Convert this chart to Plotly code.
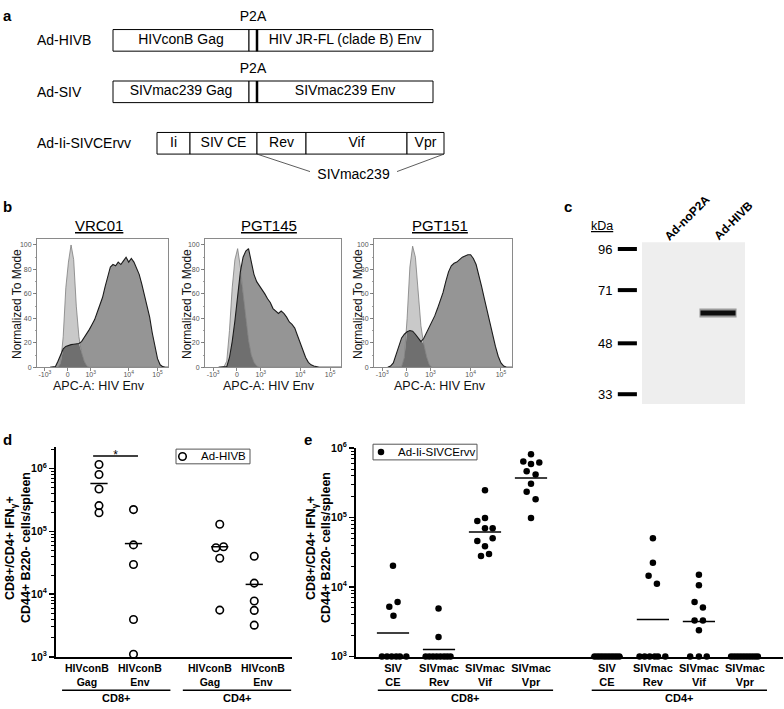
import numpy as np
import plotly.graph_objects as go

W, H = 784, 709
FONT = "Liberation Sans, Arial, Helvetica, sans-serif"


def px(x):
    return x / W


def py(y):
    return 1 - y / H


# ---------------- data ----------------
# a : construct maps (segment lengths in schematic units)
construct_names = ["Ad-HIVB", "Ad-SIV", "Ad-Ii-SIVCErvv"]
hivb_parts = ["HIVconB Gag", "", "HIV JR-FL (clade B) Env"]
hivb_sizes = [136, 8, 176]
siv_parts = ["SIVmac239 Gag", "", "SIVmac239 Env"]
siv_sizes = [136, 8, 176]
ii_parts = ["Ii", "SIV CE", "Rev", "Vif", "Vpr"]
ii_sizes = [33, 67, 49, 101, 37]
linker_name = "P2A"
bracket_name = "SIVmac239"

# b : flow histograms (display-scale channel, % of mode)
hist_x = [0.10, 0.12, 0.14, 0.16, 0.18, 0.20, 0.22, 0.24, 0.26, 0.28,
          0.30, 0.32, 0.34, 0.36, 0.38, 0.40, 0.42, 0.44, 0.46, 0.48,
          0.50, 0.52, 0.54, 0.56, 0.58, 0.60, 0.62, 0.64, 0.66, 0.68,
          0.70, 0.72, 0.74, 0.76, 0.78, 0.80, 0.82, 0.84, 0.86, 0.88,
          0.90, 0.92, 0.94, 0.96, 0.98, 1.00]
antibodies = ["VRC01", "PGT145", "PGT151"]
ctrl_vrc01 = [0, 0, 0, 0, 3, 25, 65, 86, 100, 88,
              50, 25, 12, 5, 1, 0, 0, 0, 0, 0,
              0, 0, 0, 0, 0, 0, 0, 0, 0, 0,
              0, 0, 0, 0, 0, 0, 0, 0, 0, 0,
              0, 0, 0, 0, 0, 0]
env_vrc01 = [0, 0, 0.5, 5, 10, 15, 17, 18, 18.5, 18.8,
             19, 19.5, 21, 24, 27, 31, 35, 39, 45, 51,
             57, 66, 75, 82, 84, 83, 86, 84, 87, 90,
             86, 89, 86, 81, 76, 68, 59, 50, 41, 28,
             17, 7, 2, 0.5, 0, 0]
ctrl_pgt145 = [0, 0, 0.5, 5, 30, 65, 88, 97, 82, 60,
               40, 22, 10, 4, 1, 0, 0, 0, 0, 0,
               0, 0, 0, 0, 0, 0, 0, 0, 0, 0,
               0, 0, 0, 0, 0, 0, 0, 0, 0, 0,
               0, 0, 0, 0, 0, 0]
env_pgt145 = [0, 0, 0, 0.5, 8, 21, 38, 58, 78, 90,
              95, 97, 85, 76, 70, 67, 63, 60, 56, 53,
              48, 46, 44, 46, 44, 41, 37, 35, 32, 26,
              20, 14, 8, 4, 2, 1, 0.3, 0, 0, 0,
              0, 0, 0, 0, 0, 0]
ctrl_pgt151 = [0, 0, 0, 0, 0, 0.5, 8, 40, 82, 99,
               90, 63, 34, 19, 9, 2, 0, 0, 0, 0,
               0, 0, 0, 0, 0, 0, 0, 0, 0, 0,
               0, 0, 0, 0, 0, 0, 0, 0, 0, 0,
               0, 0, 0, 0, 0, 0]
env_pgt151 = [0, 1, 3.5, 10, 18, 24, 27, 29, 30, 29.5,
              27, 24, 21, 23.5, 28, 32, 37, 42, 48, 54,
              61, 70, 78, 83, 85, 86, 88, 90, 91, 92,
              92, 89, 84, 76, 66, 56, 46, 37, 27, 17,
              9, 3.5, 1, 0, 0, 0]
apc_tick_pos = [0.06, 0.235, 0.41, 0.70, 0.92]
apc_tick_text = ["-10<sup>3</sup>", "0", "10<sup>3</sup>", "10<sup>4</sup>", "10<sup>5</sup>"]
mode_ticks = [0, 20, 40, 60, 80, 100]

# c : western blot
ladder_kda = [96, 71, 48, 33]
lane_names = ["Ad-noP2A", "Ad-HIVB"]
band_lane = 2
band_kda = 60
blot_kda_span = [30.7, 101]

# d : Ad-HIVB responses (cells/spleen)
d_labels = ["HIVconB<br>Gag", "HIVconB<br>Env", "HIVconB<br>Gag", "HIVconB<br>Env"]
d_groups = ["CD8+", "CD4+"]
d_cd8_gag = [1170000, 810000, 475000, 258000, 198000]
d_cd8_env = [223000, 61000, 29700, 3930, 1100]
d_cd4_gag = [130000, 55000, 57000, 37400, 5560]
d_cd4_env = [40200, 15000, 7760, 5500, 3200]
d_cd8_gag_off = [0, 0, 0, 0, 0]
d_cd8_env_off = [0, 0, 0, 0, 0]
d_cd4_gag_off = [0, -0.11, 0.11, 0, 0]
d_cd4_env_off = [0, 0, 0, 0, 0]
d_means = [582000, 64000, 57000, 14300]
d_legend = "Ad-HIVB"

# e : Ad-Ii-SIVCErvv responses (cells/spleen)
e_labels = ["SIV<br>CE", "SIVmac<br>Rev", "SIVmac<br>Vif", "SIVmac<br>Vpr",
            "SIV<br>CE", "SIVmac<br>Rev", "SIVmac<br>Vif", "SIVmac<br>Vpr"]
e_groups = ["CD8+", "CD4+"]
e_cd8_ce = [20200, 6100, 5200, 3870, 1000, 1000, 1000, 1000, 1000, 1000]
e_cd8_rev = [4900, 1910, 1000, 1000, 1000, 1000, 1000, 1000, 1000, 1000]
e_cd8_vif = [248000, 99000, 89000, 70000, 70000, 50600, 46000, 38700, 30000, 28000]
e_cd8_vpr = [815000, 640000, 590000, 620000, 466000, 417000, 308000, 235000, 183000, 99000]
e_cd4_ce = [1000, 1000, 1000, 1000, 1000, 1000, 1000, 1000, 1000, 1000]
e_cd4_rev = [50600, 22300, 14500, 11200, 1000, 1000, 1000, 1000, 1000, 1000]
e_cd4_vif = [15000, 10600, 6100, 5060, 3290, 3290, 2380, 1000, 1000, 1000]
e_cd4_vpr = [1000, 1000, 1000, 1000, 1000, 1000, 1000, 1000, 1000, 1000]
e_cd8_ce_off = [0, 0.10, -0.08, 0.01, -0.24, -0.13, -0.03, 0.07, 0.15, 0.29]
e_cd8_rev_off = [-0.01, -0.01, -0.29, -0.21, -0.13, -0.05, 0.03, 0.11, 0.18, 0.25]
e_cd8_vif_off = [0, 0, -0.167, 0, 0.167, 0.167, -0.167, 0, 0.087, -0.087]
e_cd8_vpr_off = [0, -0.167, 0, 0.18, -0.094, 0.10, 0, -0.094, 0.10, 0]
e_cd4_ce_off = [-0.27, -0.21, -0.15, -0.09, -0.03, 0.03, 0.09, 0.15, 0.21, 0.27]
e_cd4_rev_off = [0, 0, -0.094, 0.087, -0.29, -0.18, -0.07, 0.04, 0.11, 0.27]
e_cd4_vif_off = [0, 0, -0.094, 0.087, -0.094, 0.087, 0, -0.19, 0, 0.17]
e_cd4_vpr_off = [-0.30, -0.235, -0.17, -0.105, -0.04, 0.025, 0.09, 0.155, 0.22, 0.28]
e_means = [2180, 1260, 62000, 370000, 1000, 3400, 3200, 1000]
e_legend = "Ad-Ii-SIVCErvv"

# ---------------- figure ----------------
fig = go.Figure()
annotations = []
shapes = []
NOHOVER = dict(hoverinfo="skip", showlegend=False)


def note(x, y, text, size, xanchor="center", yanchor="middle", xref="paper", yref="paper",
         bold=False, angle=0, color="black", **kw):
    f = dict(size=size, color=color)
    if bold:
        f["weight"] = "bold"
    annotations.append(dict(x=x, y=y, xref=xref, yref=yref, text=text, showarrow=False,
                            xanchor=xanchor, yanchor=yanchor, textangle=angle, font=f, **kw))


# ===== panel a =====
rows = [(hivb_parts, hivb_sizes, 113), (siv_parts, siv_sizes, 113), (ii_parts, ii_sizes, 157)]
BOX_H = 0.42
for r, (parts, sizes, start) in enumerate(rows):
    sz = np.array(sizes, float)
    bases = start + np.concatenate([[0.0], np.cumsum(sz)[:-1]])
    fig.add_trace(go.Bar(y=[r] * len(sz), x=sz, base=bases, orientation="h", width=BOX_H,
                         marker=dict(color="white", line=dict(color="black", width=1)),
                         xaxis="x", yaxis="y", **NOHOVER))
    centers = bases + sz / 2
    named = [i for i, p in enumerate(parts) if p]
    fig.add_trace(go.Scatter(x=[centers[i] for i in named], y=[r] * len(named), mode="text",
                             text=[parts[i] for i in named],
                             textfont=dict(size=14, color="black"), xaxis="x", yaxis="y",
                             cliponaxis=False, **NOHOVER))
    if "" in parts:
        k = parts.index("")
        fig.add_trace(go.Scatter(x=[bases[k] + sz[k]] * 2, y=[r - BOX_H / 2, r + BOX_H / 2],
                                 mode="lines", line=dict(color="black", width=2.5),
                                 xaxis="x", yaxis="y", **NOHOVER))
        fig.add_trace(go.Scatter(x=[centers[k]], y=[r - 0.44], mode="text", text=[linker_name],
                                 textfont=dict(size=14, color="black"), xaxis="x", yaxis="y",
                                 cliponaxis=False, **NOHOVER))
    else:
        i_rev, i_vpr = parts.index("Rev"), parts.index("Vpr")
        x_l = bases[i_rev]
        x_r = bases[i_vpr] + sz[i_vpr]
        yb = r + BOX_H / 2
        fig.add_trace(go.Scatter(x=[x_l, x_l + 53, None, x_r, x_r - 47],
                                 y=[yb, yb + 0.34, None, yb, yb + 0.34],
                                 mode="lines", line=dict(color="#333", width=0.8),
                                 xaxis="x", yaxis="y", **NOHOVER))
        fig.add_trace(go.Scatter(x=[(x_l + 53 + x_r - 47) / 2], y=[r + 0.63], mode="text",
                                 text=[bracket_name], textfont=dict(size=14, color="black"),
                                 xaxis="x", yaxis="y", cliponaxis=False, **NOHOVER))
    note(px(35), r, construct_names[r], 14, xanchor="left", yref="y")

# ===== panel b =====
b_domains = [(37, 168), (205, 341), (374, 512)]
b_centers = [98.5, 269, 440]
b_ylab_x = [17, 187, 358]
ctrls = [ctrl_vrc01, ctrl_pgt145, ctrl_pgt151]
envs = [env_vrc01, env_pgt145, env_pgt151]
for i in range(3):
    xa, ya = f"x{i + 2}", f"y{i + 2}"
    c = np.array(ctrls[i], float)
    s = np.array(envs[i], float)
    ov = np.minimum(c, s)
    for yv, col in [(s, "#959595"), (c, "#c9c9c9"), (ov, "#6f6f6f")]:
        fig.add_trace(go.Scatter(x=hist_x, y=yv, mode="lines", line=dict(width=0, color=col),
                                 fill="tozeroy", fillcolor=col, xaxis=xa, yaxis=ya, **NOHOVER))
    fig.add_trace(go.Scatter(x=hist_x, y=c, mode="lines", line=dict(color="#7d7d7d", width=0.8),
                             xaxis=xa, yaxis=ya, **NOHOVER))
    fig.add_trace(go.Scatter(x=hist_x, y=s, mode="lines", line=dict(color="#1c1c1c", width=1.1),
                             xaxis=xa, yaxis=ya, **NOHOVER))
    l, rr = b_domains[i]
    fig.update_layout(**{
        f"xaxis{i + 2}": dict(domain=[px(l), px(rr)], range=[0, 1], anchor=ya,
                              tickvals=apc_tick_pos, ticktext=apc_tick_text, ticks="outside",
                              ticklen=3, tickwidth=0.8, tickcolor="#666",
                              tickfont=dict(size=7, color="#555"), ticklabelstandoff=-3,
                              showline=True, linecolor="#8a8a8a", linewidth=1, mirror=True,
                              showgrid=False, zeroline=False, fixedrange=True),
        f"yaxis{i + 2}": dict(domain=[py(366.5), py(236)], range=[0, 104.6], anchor=xa,
                              tickvals=mode_ticks, ticks="outside", ticklen=3, tickwidth=0.8,
                              tickcolor="#666", tickfont=dict(size=7, color="#555"),
                              showline=True, linecolor="#8a8a8a", linewidth=1, mirror=True,
                              showgrid=False, zeroline=False, fixedrange=True,
                              minor=dict(dtick=10, ticks="outside", ticklen=1.5, tickcolor="#888")),
    })
    note(px(b_centers[i]), py(222), f"<u>{antibodies[i]}</u>", 15)
    note(px(b_centers[i]), py(386), "APC-A: HIV Env", 12.5, color="#111")
    note(px(b_ylab_x[i]), py(302), "Normalized To Mode", 12, angle=-90, color="#111")

# ===== panel c =====
lk = np.log10(ladder_kda)
span = np.log10(blot_kda_span)
fig.add_trace(go.Scatter(x=[0.566, 2.509, 2.509, 0.566, 0.566],
                         y=[span[0], span[0], span[1], span[1], span[0]],
                         mode="lines", line=dict(width=0), fill="toself", fillcolor="#eeeeee",
                         xaxis="x5", yaxis="y5", **NOHOVER))
ladder_x = 0.29
for k, v in zip(ladder_kda, lk):
    fig.add_trace(go.Scatter(x=[ladder_x - 0.18, ladder_x + 0.18], y=[v, v], mode="lines",
                             line=dict(color="black", width=4), xaxis="x5", yaxis="y5", **NOHOVER))
    note(ladder_x - 0.18, v, str(k), 13, xanchor="right", xref="x5", yref="y5", xshift=-4)
bk = np.log10(band_kda)
fig.add_trace(go.Scatter(x=[band_lane - 0.35, band_lane + 0.35], y=[bk, bk], mode="lines",
                         line=dict(color="rgba(0,0,0,0.35)", width=9), xaxis="x5", yaxis="y5",
                         **NOHOVER))
fig.add_trace(go.Scatter(x=[band_lane - 0.33, band_lane + 0.33], y=[bk, bk], mode="lines",
                         line=dict(color="#0d0d0d", width=5), xaxis="x5", yaxis="y5", **NOHOVER))
note(px(602), py(222), "<u>kDa</u>", 12.5)
lane_label_pos = [(687, 214), (733, 217)]
for name, (lx, ly) in zip(lane_names, lane_label_pos):
    note(px(lx), py(ly), name, 12, angle=-45, bold=True)
fig.update_layout(
    xaxis5=dict(domain=[px(600), px(760)], range=[-0.226, 2.792], visible=False, anchor="y5",
                fixedrange=True),
    yaxis5=dict(domain=[py(410), py(230)], range=[1.4684, 2.0323], visible=False, anchor="x5",
                fixedrange=True),
)


# ===== common dot-plot helpers =====
def marker_style(symbol, size):
    if symbol == "circle-open":
        return dict(symbol=symbol, size=size, color="black", line=dict(width=1.6, color="black"))
    return dict(symbol=symbol, size=size, color="black", line=dict(width=0))


def add_points(vals_list, offs_list, positions, xa, ya, symbol, size):
    xs, ys = [], []
    for vals, offs, p in zip(vals_list, offs_list, positions):
        xs += list(p + np.array(offs))
        ys += list(vals)
    fig.add_trace(go.Scatter(x=xs, y=ys, mode="markers", marker=marker_style(symbol, size),
                             xaxis=xa, yaxis=ya, cliponaxis=False, **NOHOVER))


def add_means(means, positions, half, xa, ya):
    xs, ys = [], []
    for m, p in zip(means, positions):
        xs += [p - half, p + half, None]
        ys += [m, m, None]
    fig.add_trace(go.Scatter(x=xs, y=ys, mode="lines", line=dict(color="black", width=1.5),
                             xaxis=xa, yaxis=ya, cliponaxis=False, **NOHOVER))


def log_axis(dom, rng, anchor, minors):
    return dict(type="log", range=rng, domain=dom, anchor=anchor, fixedrange=True,
                tickvals=[1e3, 1e4, 1e5, 1e6],
                ticktext=["10<sup>3</sup>", "10<sup>4</sup>", "10<sup>5</sup>", "10<sup>6</sup>"],
                ticks="outside", ticklen=5, tickwidth=1.5, tickcolor="black",
                tickfont=dict(size=10.5, color="black", weight="bold"),
                showline=True, linewidth=2, linecolor="black", showgrid=False, zeroline=False,
                minor=dict(tickvals=minors, ticks="outside", ticklen=3, tickwidth=1,
                           tickcolor="black", showgrid=False))


minor_vals = [k * 10 ** e for e in (3, 4, 5) for k in range(2, 10)]
LOG_FLOOR = 2.9985  # a hair below 10^3 so values at the detection floor stay drawn

# ===== panel d =====
d_pos = [1, 2, 4.5, 5.5]
add_points([d_cd8_gag, d_cd8_env, d_cd4_gag, d_cd4_env],
           [d_cd8_gag_off, d_cd8_env_off, d_cd4_gag_off, d_cd4_env_off],
           d_pos, "x6", "y6", "circle-open", 7.5)
add_means(d_means, d_pos, 0.25, "x6", "y6")
fig.add_trace(go.Scatter(x=[d_pos[0] - 0.17, d_pos[1] + 0.13], y=[1.6e6, 1.6e6], mode="lines",
                         line=dict(color="black", width=1.5), xaxis="x6", yaxis="y6",
                         cliponaxis=False, **NOHOVER))
fig.add_trace(go.Scatter(x=[(d_pos[0] + d_pos[1]) / 2 - 0.02], y=[1.6e6], mode="text", text=["*"],
                         textfont=dict(size=12, color="black"), xaxis="x6", yaxis="y6",
                         cliponaxis=False, **NOHOVER))
fig.update_layout(
    xaxis6=dict(domain=[px(56), px(292)], range=[-0.246, 6.594], anchor="y6", fixedrange=True,
                showticklabels=False, ticks="", showline=True, linewidth=2,
                linecolor="black", showgrid=False, zeroline=False),
    yaxis6=log_axis([py(662), py(448)], [LOG_FLOOR, 6.344], "x6", minor_vals + [2e6]),
)
d_label_x = [87, 140, 210, 263]
for lab, lx in zip(d_labels, d_label_x):
    note(px(lx), py(680), lab, 10.5, bold=True)
for g, (a, b) in zip(d_groups, [(d_pos[0], d_pos[1]), (d_pos[2], d_pos[3])]):
    shapes.append(dict(type="line", xref="x6", yref="paper", x0=a - 1.07, x1=b + 1.07,
                       y0=py(696), y1=py(696), line=dict(color="black", width=1.5)))
    note((a + b) / 2, py(703.5), g, 11, xref="x6", bold=True)

# ===== panel e =====
e_pos = [1, 2, 3, 4, 5.65, 6.65, 7.65, 8.65]
add_points([e_cd8_ce, e_cd8_rev, e_cd8_vif, e_cd8_vpr, e_cd4_ce, e_cd4_rev, e_cd4_vif, e_cd4_vpr],
           [e_cd8_ce_off, e_cd8_rev_off, e_cd8_vif_off, e_cd8_vpr_off,
            e_cd4_ce_off, e_cd4_rev_off, e_cd4_vif_off, e_cd4_vpr_off],
           e_pos, "x7", "y7", "circle", 6.5)
add_means(e_means, e_pos, 0.35, "x7", "y7")
fig.update_layout(
    xaxis7=dict(domain=[px(356), px(783)], range=[0.196, 9.478], anchor="y7", fixedrange=True,
                tickvals=e_pos, ticktext=e_labels, ticks="", tickangle=0, showline=True,
                linewidth=2, linecolor="black", showgrid=False, zeroline=False,
                tickfont=dict(size=11, color="black", weight="bold")),
    yaxis7=log_axis([py(661.7), py(449)], [LOG_FLOOR, 6], "x7", minor_vals),
)
for g, (a, b) in zip(e_groups, [(e_pos[0], e_pos[3]), (e_pos[4], e_pos[7])]):
    shapes.append(dict(type="line", xref="x7", yref="paper", x0=a - 0.33, x1=b + 0.48,
                       y0=py(696), y1=py(696), line=dict(color="black", width=1.5)))
    note((a + b) / 2 + 0.075, py(703.5), g, 11, xref="x7", bold=True)

# ===== hand-drawn legends for d and e (overlay axis in pixel units) =====
fig.update_layout(
    xaxis8=dict(domain=[0, 1], range=[0, W], visible=False, anchor="y8", fixedrange=True),
    yaxis8=dict(domain=[0, 1], range=[H, 0], visible=False, anchor="x8", fixedrange=True),
)
legend_boxes = [((176, 450, 250, 465), 182.5, 199, d_legend, "circle-open", 7.5),
                ((373, 445, 477, 461), 381, 396, e_legend, "circle", 6.5)]
for (x0, y0, x1, y1), mx, tx, label, sym, size in legend_boxes:
    shapes.append(dict(type="rect", xref="paper", yref="paper", x0=px(x0), x1=px(x1),
                       y0=py(y1), y1=py(y0), line=dict(color="#555", width=1),
                       fillcolor="white", layer="below"))
    ym = (y0 + y1) / 2
    fig.add_trace(go.Scatter(x=[mx], y=[ym], mode="markers", marker=marker_style(sym, size),
                             xaxis="x8", yaxis="y8", cliponaxis=False, **NOHOVER))
    note(px(tx), py(ym), label, 11.5, xanchor="left")

# y titles for d and e
ytitle1 = "CD8+/CD4+ IFN<sub>γ</sub>+"
ytitle2 = "CD44+ B220- cells/spleen"
for x1, x2 in [(11, 26), (312, 326)]:
    note(px(x1), py(551), ytitle1, 12.5, angle=-90, bold=True)
    note(px(x2), py(551), ytitle2, 12.5, angle=-90, bold=True)

# panel letters
for letter, (lx, ly) in zip("abcde", [(8, 8), (8, 202), (568, 202), (8, 440), (308, 440)]):
    note(px(lx), py(ly), letter, 15, bold=True)

fig.update_layout(
    width=W, height=H, margin=dict(l=0, r=0, t=0, b=0),
    paper_bgcolor="white", plot_bgcolor="rgba(0,0,0,0)",
    font=dict(family=FONT, color="black"),
    barmode="overlay", showlegend=False, hovermode=False, dragmode=False,
    xaxis=dict(domain=[0, 1], range=[0, W], visible=False, fixedrange=True),
    yaxis=dict(domain=[py(175), 1], range=[2.705, -0.629], visible=False, fixedrange=True),
    annotations=annotations,
    shapes=shapes,
)

fig.write_html("out.html", config={"displayModeBar": False, "staticPlot": True},
               post_script="document.body.style.margin='0';document.body.style.overflow='hidden';")
